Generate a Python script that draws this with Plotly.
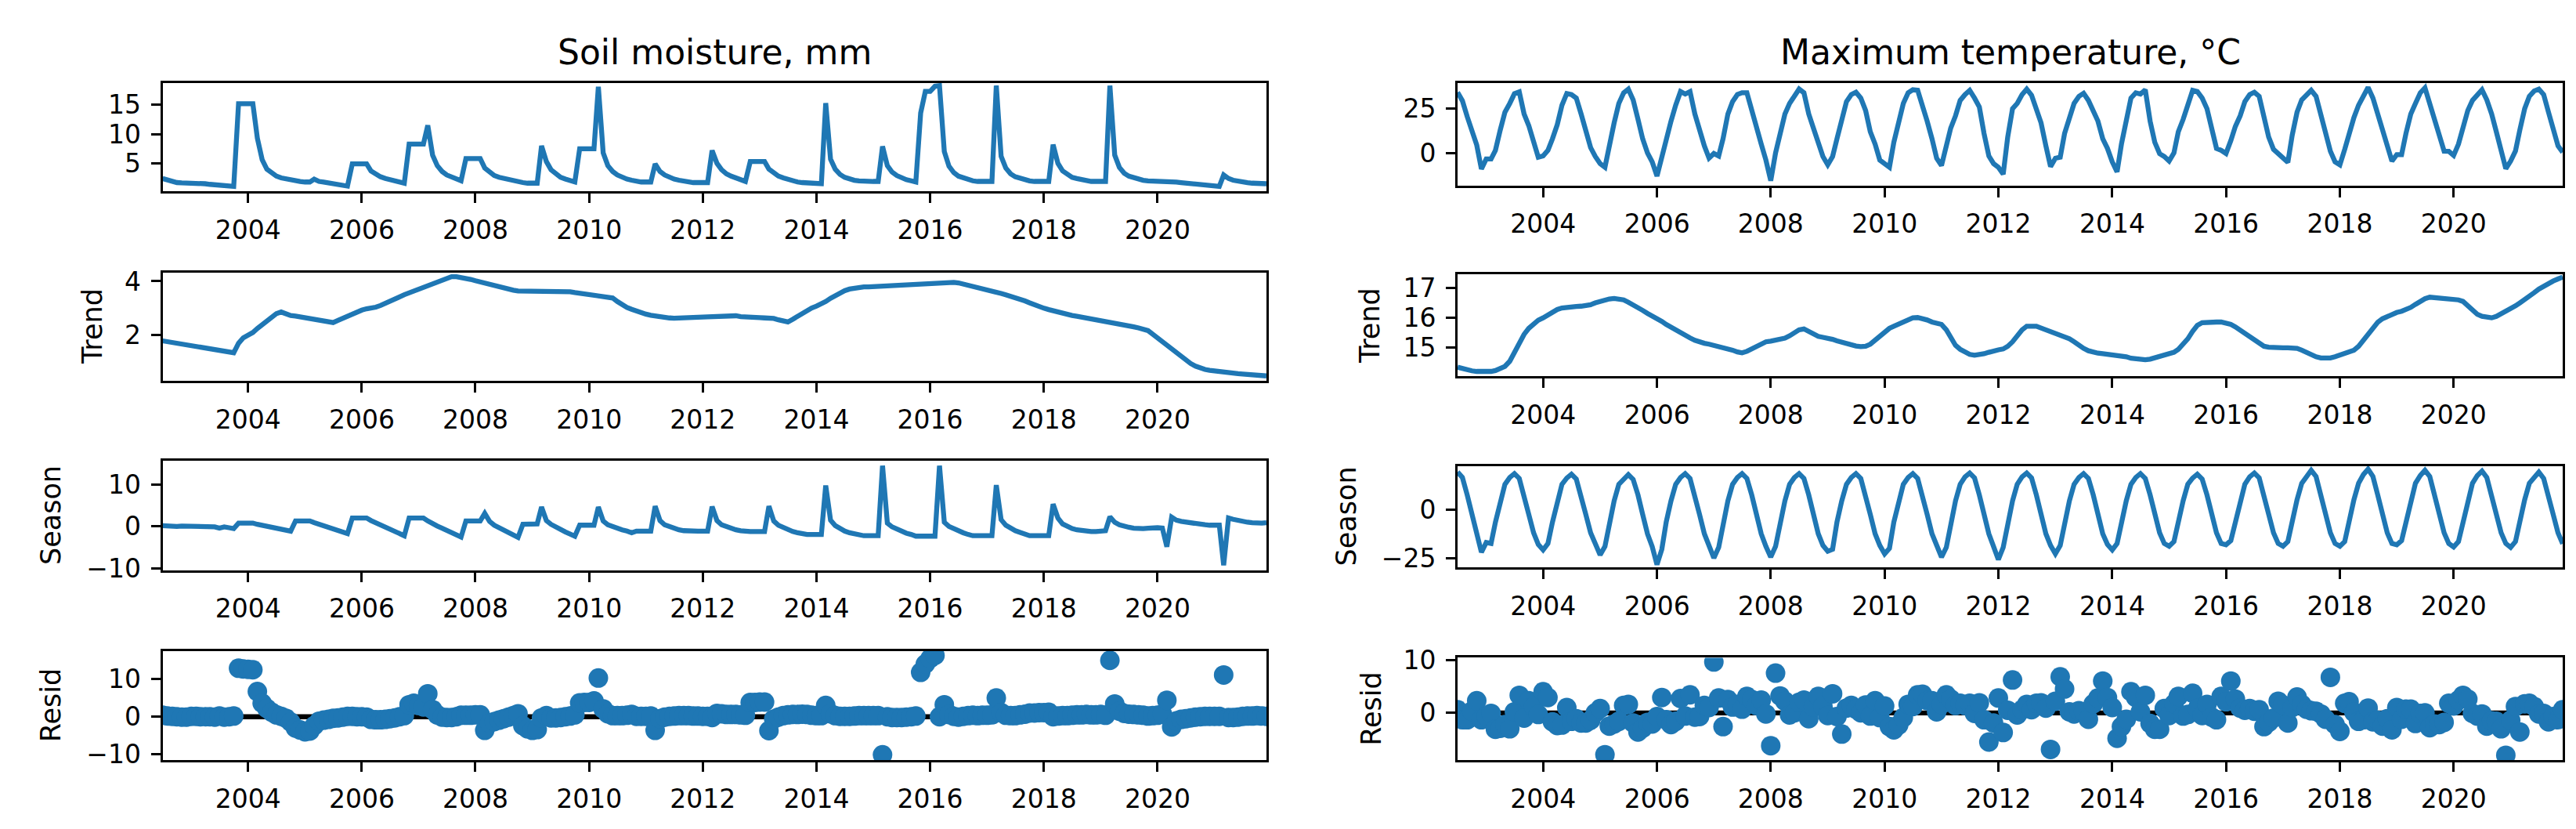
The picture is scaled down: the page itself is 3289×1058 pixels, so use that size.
import pandas as pd
import plotly.graph_objects as go

# ---------------- data (monthly, first month below) ----------------
START_MONTH = "2002-07-01"

# Soil moisture, mm
SM_OBSERVED = [
    2.4, 2.1, 1.9, 1.7, 1.65, 1.65,
    1.65, 1.65, 1.6, 1.5, 1.4, 1.3, 1.25, 1.2, 1.1, 1.05, 15.2, 15.2,
    15.2, 15.2, 9.3, 5.6, 4.0, 3.3, 2.8, 2.5, 2.3, 2.1, 2.0, 1.9,
    1.8, 1.8, 2.3, 1.9, 1.8, 1.7, 1.6, 1.5, 1.3, 1.1, 4.9, 4.9,
    4.9, 4.9, 3.7, 3.1, 2.7, 2.4, 2.2, 2.0, 1.8, 1.6, 8.3, 8.3,
    8.3, 8.3, 11.5, 6.4, 4.6, 3.6, 3.0, 2.6, 2.3, 2.0, 5.8, 5.8,
    5.8, 5.8, 4.2, 3.4, 2.9, 2.6, 2.4, 2.2, 2.0, 1.8, 1.7, 1.6,
    1.6, 1.6, 8.0, 5.3, 3.9, 3.1, 2.6, 2.3, 2.0, 1.8, 7.5, 7.5,
    7.5, 7.5, 18.1, 6.8, 4.6, 3.6, 3.0, 2.6, 2.3, 2.1, 1.9, 1.8,
    1.8, 1.8, 4.9, 3.6, 3.0, 2.6, 2.3, 2.1, 1.9, 1.8, 1.7, 1.7,
    1.7, 1.7, 7.2, 5.0, 3.9, 3.2, 2.8, 2.5, 2.2, 1.9, 5.3, 5.3,
    5.3, 5.3, 4.0, 3.3, 2.8, 2.5, 2.2, 2.0, 1.8, 1.7, 1.6, 1.5,
    1.5, 1.5, 15.3, 5.7, 4.0, 3.1, 2.6, 2.3, 2.1, 2.0, 1.9, 1.9,
    1.9, 1.9, 7.9, 4.6, 3.5, 2.9, 2.5, 2.2, 2.0, 1.8, 13.6, 17.3,
    17.3, 18.2, 18.3, 7.0, 4.5, 3.4, 2.8, 2.5, 2.2, 2.0, 1.9, 1.9,
    1.9, 1.9, 18.3, 6.2, 4.2, 3.2, 2.7, 2.4, 2.2, 2.0, 1.9, 1.9,
    1.9, 1.9, 8.2, 5.0, 3.7, 3.0, 2.6, 2.4, 2.2, 2.0, 1.9, 1.9,
    1.9, 1.9, 18.3, 6.4, 4.3, 3.3, 2.8, 2.5, 2.3, 2.1, 2.0, 2.0,
    2.0, 2.0, 2.0, 1.9, 1.8, 1.7, 1.6, 1.5, 1.4, 1.3, 1.2, 1.1,
    1.05, 1.05, 3.0, 2.4, 2.1, 1.9, 1.8, 1.7, 1.6, 1.6, 1.5, 1.5,
]
SM_TREND = [
    1.79, 1.76, 1.72, 1.68, 1.65, 1.62,
    1.59, 1.56, 1.53, 1.5, 1.47, 1.45, 1.42, 1.4, 1.37, 1.35, 1.7, 1.9,
    2.0, 2.1, 2.25, 2.4, 2.55, 2.68, 2.8, 2.86, 2.78, 2.73, 2.71, 2.68,
    2.66, 2.64, 2.61, 2.57, 2.53, 2.49, 2.47, 2.55, 2.63, 2.72, 2.8, 2.87,
    2.93, 2.98, 3.0, 3.04, 3.1, 3.17, 3.27, 3.35, 3.42, 3.5, 3.57, 3.64,
    3.7, 3.77, 3.84, 3.92, 4.0, 4.07, 4.14, 4.17, 4.17, 4.15, 4.12, 4.07,
    4.02, 3.97, 3.93, 3.89, 3.85, 3.81, 3.77, 3.72, 3.67, 3.64, 3.64, 3.65,
    3.65, 3.65, 3.65, 3.65, 3.65, 3.64, 3.64, 3.63, 3.61, 3.58, 3.55, 3.52,
    3.5, 3.48, 3.45, 3.42, 3.4, 3.38, 3.25, 3.13, 3.03, 2.96, 2.89, 2.83,
    2.78, 2.74, 2.71, 2.68, 2.66, 2.64, 2.63, 2.63, 2.63, 2.64, 2.65, 2.66,
    2.67, 2.68, 2.69, 2.7, 2.71, 2.72, 2.73, 2.72, 2.69, 2.67, 2.66, 2.65,
    2.65, 2.64, 2.64, 2.62, 2.57, 2.51, 2.49, 2.59, 2.7, 2.81, 2.92, 3.01,
    3.08, 3.15, 3.25, 3.37, 3.48, 3.57, 3.65, 3.71, 3.75, 3.78, 3.79, 3.79,
    3.8, 3.8, 3.8, 3.81, 3.81, 3.82, 3.84, 3.86, 3.88, 3.9, 3.9, 3.9,
    3.9, 3.9, 3.91, 3.93, 3.95, 3.96, 3.94, 3.9, 3.85, 3.81, 3.77, 3.73,
    3.7, 3.65, 3.6, 3.55, 3.5, 3.45, 3.39, 3.33, 3.27, 3.2, 3.12, 3.05,
    3.0, 2.95, 2.9, 2.86, 2.81, 2.77, 2.73, 2.7, 2.67, 2.64, 2.61, 2.58,
    2.55, 2.51, 2.47, 2.44, 2.4, 2.37, 2.34, 2.31, 2.27, 2.23, 2.17, 2.04,
    1.9, 1.75, 1.62, 1.48, 1.34, 1.2, 1.07, 0.95, 0.85, 0.77, 0.73, 0.7,
    0.67, 0.65, 0.63, 0.61, 0.59, 0.57, 0.56, 0.55, 0.53, 0.52, 0.5, 0.49,
]
SM_SEASON = [
    0.2, 0.1, 0.1, 0.0, 0.1, 0.1,
    0.0, 0.0, 0.1, 0.0, -0.1, -0.1, -0.4, -0.1, -0.3, -0.5, 0.8, 0.8,
    0.8, 0.8, 0.5, 0.3, 0.1, -0.1, -0.3, -0.5, -0.7, -1.1, 1.3, 1.3,
    1.3, 1.3, 0.9, 0.5, 0.2, -0.1, -0.5, -0.8, -1.2, -1.7, 2.0, 2.0,
    2.0, 2.0, 1.4, 0.9, 0.4, -0.1, -0.6, -1.1, -1.6, -2.2, 2.0, 2.0,
    2.0, 2.0, 1.3, 0.6, 0.1, -0.4, -0.9, -1.4, -1.9, -2.5, 1.3, 1.3,
    1.3, 1.3, 3.1, 1.2, 0.3, -0.3, -0.9, -1.4, -2.0, -2.6, 0.5, 0.5,
    0.5, 0.6, 4.6, 1.4, 0.5, -0.2, -0.8, -1.3, -1.8, -2.3, 0.3, 0.3,
    0.3, 0.3, 4.6, 1.3, 0.4, -0.1, -0.5, -0.8, -1.1, -1.5, -1.1, -1.1,
    -1.1, -1.1, 4.8, 1.4, 0.4, -0.1, -0.5, -0.8, -1.0, -1.1, -1.1, -1.1,
    -1.1, -1.1, 4.7, 1.4, 0.4, -0.1, -0.5, -0.8, -1.0, -1.2, -1.2, -1.2,
    -1.2, -1.2, 4.8, 1.3, 0.3, -0.3, -0.8, -1.2, -1.5, -1.8, -1.9, -1.9,
    -1.9, -1.9, 9.7, 1.5, 0.2, -0.6, -1.1, -1.5, -1.8, -2.1, -2.2, -2.2,
    -2.2, -2.2, 14.4, 0.8, -0.1, -0.7, -1.2, -1.6, -1.9, -2.3, -2.3, -2.3,
    -2.3, -2.3, 14.4, 1.0, 0.0, -0.6, -1.1, -1.5, -1.9, -2.2, -2.2, -2.2,
    -2.2, -2.2, 9.8, 1.6, 0.3, -0.5, -1.0, -1.4, -1.8, -2.2, -2.2, -2.2,
    -2.2, -2.2, 5.3, 2.0, 0.6, -0.1, -0.5, -0.8, -1.0, -1.2, -1.2, -1.2,
    -1.2, -1.0, 2.3, 1.0, 0.4, 0.0, -0.2, -0.4, -0.5, -0.5, -0.4, -0.3,
    -0.3, -0.4, -4.8, 2.2, 1.5, 1.2, 1.0, 0.8, 0.6, 0.5, 0.4, 0.3,
    0.3, 0.3, -9.2, 2.0, 1.7, 1.4, 1.2, 1.0, 0.9, 0.8, 0.8, 0.9,
]
SM_RESID = [
    0.4, 0.2, 0.1, 0.0, -0.1, -0.1,
    0.1, 0.1, 0.0, 0.0, 0.0, -0.1, 0.2, -0.1, 0.0, 0.2, 12.9, 12.7,
    12.6, 12.5, 6.7, 3.6, 2.2, 1.2, 0.5, 0.1, -0.4, -1.4, -3.0, -3.5,
    -4.0, -3.8, -2.4, -1.2, -0.9, -0.7, -0.4, -0.3, -0.1, 0.1, 0.1, 0.0,
    0.0, -0.1, -0.7, -0.8, -0.8, -0.7, -0.5, -0.3, 0.0, 0.3, 3.2, 3.6,
    3.0, 2.6, 6.1, 1.9, 0.5, -0.1, -0.2, -0.2, 0.0, 0.4, 0.4, 0.4,
    0.5, 0.5, -3.6, -1.7, -1.3, -0.9, -0.5, -0.1, 0.3, 0.8, -2.4, -3.2,
    -3.6, -3.4, -0.3, 0.3, -0.3, -0.3, -0.2, 0.0, 0.2, 0.5, 3.7, 3.8,
    3.8, 4.2, 10.3, 2.1, 0.8, 0.3, 0.3, 0.3, 0.4, 0.6, 0.1, 0.1,
    0.1, 0.2, -3.6, -0.5, -0.1, 0.1, 0.2, 0.3, 0.3, 0.3, 0.2, 0.2,
    0.1, 0.1, -0.2, 0.9, 0.8, 0.6, 0.6, 0.6, 0.5, 0.4, 3.8, 3.8,
    3.9, 3.9, -3.7, -0.6, -0.1, 0.3, 0.5, 0.6, 0.6, 0.7, 0.6, 0.4,
    0.3, 0.3, 3.0, 0.8, 0.3, 0.1, 0.1, 0.1, 0.2, 0.3, 0.3, 0.3,
    0.3, 0.3, -10.1, 0.0, -0.2, -0.2, -0.2, -0.1, 0.0, 0.2, 11.8, 14.0,
    15.5, 16.3, 0.0, 3.2, 0.6, 0.1, -0.1, 0.1, 0.3, 0.4, 0.3, 0.4,
    0.4, 0.5, 5.0, 1.1, 0.4, 0.3, 0.3, 0.5, 0.7, 1.0, 1.0, 1.1,
    1.1, 1.2, 0.0, 0.2, 0.3, 0.3, 0.4, 0.5, 0.5, 0.6, 0.5, 0.5,
    0.6, 0.4, 15.0, 3.4, 1.5, 0.9, 0.7, 0.6, 0.5, 0.4, 0.2, 0.3,
    0.4, 0.7, 4.4, -2.7, -1.1, -0.7, -0.5, -0.3, -0.1, 0.0, 0.1, 0.1,
    0.1, 0.1, 11.1, -0.2, -0.2, -0.1, 0.1, 0.2, 0.2, 0.3, 0.2, 0.1,
]

# Maximum temperature, °C
TX_OBSERVED = [
    34.3, 29.5, 20.5, 12.0, 4.5, -9.1,
    -3.4, -3.4, 1.5, 13.0, 23.0, 28.0, 33.5, 34.5, 22.0, 15.5, 5.0, -2.4,
    -1.7, 1.5, 8.0, 16.0, 27.0, 33.6, 33.0, 31.0, 22.0, 12.0, 3.0, -2.0,
    -6.0, -8.1, 5.0, 17.0, 28.0, 34.0, 36.1, 30.0, 19.0, 8.0, 0.0, -5.0,
    -13.1, -1.7, 8.0, 18.0, 27.0, 34.7, 33.3, 34.7, 22.0, 12.0, 4.0, -2.9,
    -0.3, -1.7, 8.0, 22.0, 29.0, 33.0, 34.0, 34.0, 25.0, 14.0, 5.0, -4.0,
    -15.7, 0.0, 12.0, 22.0, 28.0, 32.0, 36.1, 34.0, 22.0, 14.0, 6.0, -2.0,
    -6.7, -2.0, 8.0, 20.0, 29.0, 33.0, 34.3, 31.0, 24.0, 12.0, 5.0, -4.0,
    -6.0, -8.1, 6.0, 18.0, 28.0, 34.0, 35.7, 35.4, 27.0, 18.0, 8.0, -3.0,
    -7.1, 3.0, 14.0, 21.0, 29.7, 33.0, 35.4, 31.0, 26.0, 11.0, -1.7, -6.0,
    -8.1, -12.0, 9.0, 25.0, 28.0, 33.0, 36.1, 32.6, 25.0, 17.0, 4.0, -7.7,
    -3.0, -2.4, 11.0, 20.0, 28.0, 32.0, 33.7, 29.7, 24.0, 18.0, 8.0, 2.6,
    -5.0, -10.7, 5.0, 18.0, 31.0, 34.0, 33.3, 35.7, 18.0, 6.0, -0.4, -2.0,
    -4.6, 0.0, 12.0, 19.0, 28.0, 35.4, 34.7, 31.0, 25.0, 12.6, 2.6, 1.5,
    -0.3, 7.0, 15.0, 21.0, 29.0, 33.0, 34.3, 32.0, 20.0, 9.0, 2.0, -0.3,
    -2.4, -5.3, 10.0, 23.0, 30.0, 33.0, 35.4, 32.0, 22.0, 11.0, 1.0, -5.0,
    -6.7, 2.0, 11.0, 20.0, 27.0, 32.0, 37.1, 31.0, 22.0, 11.0, 3.0, -4.6,
    -1.0, -1.0, 11.0, 22.0, 28.0, 34.0, 36.8, 28.0, 20.0, 12.0, 1.0, 0.9,
    -1.4, 5.0, 15.0, 24.0, 29.7, 33.0, 35.7, 30.0, 22.0, 12.0, 1.1, -8.9,
    -4.6, 1.1, 13.0, 25.0, 32.0, 35.0, 36.1, 33.0, 23.0, 14.0, 4.0, 0.4,
]
TX_TREND = [
    14.35, 14.3, 14.26, 14.23, 14.21, 14.2,
    14.2, 14.21, 14.24, 14.3, 14.38, 14.55, 14.85, 15.2, 15.45, 15.65, 15.8, 15.92,
    16.0, 16.1, 16.2, 16.28, 16.33, 16.36, 16.37, 16.38, 16.39, 16.4, 16.44, 16.5,
    16.56, 16.6, 16.63, 16.65, 16.64, 16.6, 16.52, 16.44, 16.35, 16.25, 16.15, 16.07,
    15.98, 15.88, 15.78, 15.68, 15.6, 15.5, 15.42, 15.33, 15.25, 15.18, 15.15, 15.12,
    15.08, 15.05, 15.03, 14.98, 14.92, 14.86, 14.83, 14.88, 14.97, 15.07, 15.15, 15.2,
    15.22, 15.25, 15.28, 15.32, 15.4, 15.5, 15.6, 15.63, 15.55, 15.45, 15.38, 15.35,
    15.33, 15.28, 15.23, 15.18, 15.13, 15.09, 15.06, 15.04, 15.05, 15.12, 15.25, 15.4,
    15.55, 15.65, 15.72, 15.8, 15.88, 15.95, 16.0, 16.01, 15.99, 15.93, 15.86, 15.8,
    15.78, 15.6, 15.35, 15.08, 14.95, 14.85, 14.78, 14.75, 14.76, 14.8, 14.85, 14.9,
    14.93, 14.96, 15.05, 15.2, 15.4, 15.6, 15.72, 15.74, 15.72, 15.66, 15.6, 15.52,
    15.45, 15.4, 15.36, 15.3, 15.2, 15.08, 14.98, 14.9, 14.85, 14.82, 14.8, 14.78,
    14.76, 14.75, 14.74, 14.7, 14.65, 14.62, 14.6, 14.6, 14.62, 14.66, 14.7, 14.75,
    14.78, 14.85, 14.95, 15.1, 15.3, 15.55, 15.75, 15.84, 15.86, 15.86, 15.86, 15.86,
    15.84, 15.78, 15.7, 15.59, 15.48, 15.36, 15.24, 15.12, 15.05, 15.02, 15.0, 15.0,
    15.0, 15.0, 15.0, 14.98, 14.92, 14.84, 14.76, 14.7, 14.66, 14.65, 14.66, 14.7,
    14.75, 14.8, 14.87, 14.92, 15.05, 15.25, 15.45, 15.65, 15.85, 15.97, 16.05, 16.12,
    16.18, 16.22, 16.27, 16.35, 16.45, 16.55, 16.64, 16.69, 16.68, 16.66, 16.64, 16.62,
    16.61, 16.6, 16.55, 16.42, 16.26, 16.12, 16.05, 16.01, 16.0, 16.05, 16.13, 16.22,
    16.31, 16.4, 16.5, 16.6, 16.72, 16.84, 16.96, 17.06, 17.15, 17.23, 17.3, 17.36,
]
TX_SEASON = [
    19.3, 16.5, 7.5, -2.5, -12.0, -22.0,
    -17.0, -17.5, -6.5, 4.5, 13.0, 16.5, 18.5, 16.0, 7.5, -2.5, -12.0, -18.0,
    -20.8, -17.5, -6.5, 4.5, 13.0, 16.2, 18.2, 15.7, 7.5, -2.5, -12.0, -18.5,
    -23.4, -19.0, -6.5, 4.5, 13.0, 16.0, 18.0, 15.5, 7.5, -2.5, -12.5, -19.0,
    -28.4, -20.5, -6.5, 4.5, 13.0, 16.5, 18.5, 16.0, 7.5, -2.5, -12.5, -19.0,
    -25.0, -19.5, -6.5, 4.5, 13.0, 16.5, 18.5, 16.0, 7.5, -2.5, -12.5, -19.0,
    -24.5, -19.0, -6.5, 4.5, 13.0, 16.5, 18.5, 16.0, 7.5, -2.5, -12.5, -18.5,
    -21.5, -20.5, -6.5, 4.5, 13.0, 16.5, 18.5, 16.0, 7.5, -2.5, -12.5, -18.5,
    -22.8, -20.0, -6.5, 4.5, 13.0, 16.5, 18.5, 16.0, 7.5, -2.5, -12.5, -19.0,
    -24.5, -19.5, -6.5, 4.5, 13.0, 16.8, 18.8, 16.3, 7.5, -2.5, -12.5, -19.0,
    -25.8, -19.5, -6.5, 4.5, 13.0, 16.8, 18.8, 16.3, 7.5, -2.5, -12.5, -18.5,
    -22.8, -18.5, -6.5, 4.5, 13.0, 16.5, 18.5, 16.0, 7.5, -2.5, -12.5, -18.0,
    -20.8, -17.5, -6.0, 4.5, 13.0, 16.5, 18.5, 16.0, 7.5, -2.5, -12.0, -17.5,
    -18.9, -16.5, -6.0, 4.5, 13.0, 16.2, 18.2, 15.7, 7.5, -2.5, -12.0, -17.5,
    -18.2, -16.0, -6.0, 4.5, 13.0, 16.8, 18.8, 16.3, 7.5, -2.5, -12.0, -17.5,
    -18.9, -16.5, -6.0, 5.0, 13.5, 17.5, 20.2, 17.0, 7.5, -2.5, -12.0, -17.5,
    -18.9, -16.5, -6.0, 5.0, 13.5, 18.0, 20.8, 17.0, 7.5, -2.5, -12.0, -17.5,
    -18.2, -16.0, -6.0, 5.0, 13.5, 17.5, 20.2, 17.0, 7.5, -2.5, -12.0, -17.5,
    -19.3, -16.5, -6.0, 5.0, 13.5, 17.5, 19.8, 16.5, 7.5, -2.5, -12.0, -17.5,
    -19.5, -16.5, -6.0, 5.0, 13.5, 17.0, 19.3, 16.0, 7.5, -2.5, -12.0, -17.6,
]
TX_RESID = [
    0.6, -1.3, -1.3, 0.3, 2.3, -1.3,
    -0.6, -0.1, -3.1, -2.9, -2.2, -3.0, 0.2, 3.3, -1.0, 2.3, 1.2, -0.3,
    4.0, 2.9, -1.7, -2.4, -2.3, 1.0, -1.6, -1.1, -1.9, -1.9, -1.4, 0.0,
    0.8, -7.9, -2.5, -2.1, -1.6, 1.4, 1.6, -1.9, -3.6, -2.9, -1.8, -2.1,
    -0.7, 2.9, -1.3, -2.2, -1.6, 2.7, -0.6, 3.4, -0.8, -0.7, 1.4, 1.0,
    9.6, 2.8, -2.6, 2.5, 1.1, 1.6, 0.7, 3.1, 2.5, 1.4, 2.4, -0.2,
    -6.2, 7.5, 3.2, 2.2, -0.4, 0.0, 2.0, 2.4, -1.1, 1.1, 3.1, 1.2,
    -0.5, 3.6, -0.7, -4.0, 0.9, 1.4, 0.7, 0.0, 1.5, -0.6, 2.3, -0.9,
    1.3, -2.6, -3.2, -2.3, -0.9, 1.6, 1.2, 3.4, 3.5, 2.3, 2.3, 0.2,
    1.6, 3.4, 2.6, 1.4, 1.8, 1.4, 1.8, -0.1, 1.9, -1.3, -5.5, -1.9,
    2.8, -3.7, 0.5, 6.2, -0.4, 0.6, 1.6, 0.6, 1.8, 1.9, 0.9, -6.9,
    2.2, 6.8, 4.5, 0.2, -0.2, 0.4, 0.2, -1.2, 1.7, 2.8, 6.0, 2.9,
    1.0, -4.8, -2.6, -1.2, 4.0, 2.9, 0.2, 3.3, -2.0, -3.1, -3.1, 0.8,
    -0.5, 1.7, 3.1, -0.6, -0.3, 3.7, 0.8, -0.5, 1.6, -0.8, -1.3, 3.1,
    2.1, 6.0, 2.6, 0.9, 0.5, 0.8, 0.3, 0.6, -2.6, -1.8, -1.0, 2.2,
    1.5, -1.9, 1.0, 3.0, 1.6, 0.7, 0.4, 0.3, -0.2, -1.2, 6.7, -2.2,
    -3.5, 1.8, 2.1, 0.1, -1.6, -1.3, 0.9, -1.7, -1.4, -2.5, -1.1, -3.2,
    1.0, -1.2, 0.7, 0.7, -2.0, -0.1, 0.0, -2.8, -2.1, -2.2, -1.8, 1.8,
    1.3, 2.4, 3.3, 2.6, -0.1, -0.6, -0.2, -2.5, -1.5, -1.6, -3.0, -8.0,
    -1.4, 1.2, -3.6, 1.7, 1.8, 1.2, -0.2, -0.1, -1.7, -0.7, -1.3, 0.6,
]

COLUMN_TITLES = ["Soil moisture, mm", "Maximum temperature, °C"]
ROW_LABELS = [None, "Trend", "Season", "Resid"]
X_TICK_YEARS = ["2004", "2006", "2008", "2010", "2012", "2014", "2016", "2018", "2020"]

# y ticks per panel (value, label)
LEFT_YTICKS = [
    ([5, 10, 15], ["5", "10", "15"]),
    ([2, 4], ["2", "4"]),
    ([-10, 0, 10], ["\u221210", "0", "10"]),
    ([-10, 0, 10], ["\u221210", "0", "10"]),
]
RIGHT_YTICKS = [
    ([0, 25], ["0", "25"]),
    ([15, 16, 17], ["15", "16", "17"]),
    ([-25, 0], ["\u221225", "0"]),
    ([0, 10], ["0", "10"]),
]
LEFT_YRANGES = [[0.2, 18.8], [0.31, 4.32], [-10.36, 15.5], [-11.5, 17.5]]
RIGHT_YRANGES = [[-18.4, 39.7], [14.05, 17.46], [-29.9, 22.5], [-8.9, 10.4]]

# ---------------- layout geometry (pixels) ----------------
W, H = 3289, 1058
LEFT_X = (199.6, 1609.0)
RIGHT_X = (1853.0, 3264.0)
LEFT_ROWS = [(83.3, 226.7), (334.0, 476.7), (582.7, 726.7), (833.3, 977.3)]
RIGHT_ROWS = [(83.3, 219.0), (336.0, 470.7), (589.0, 723.3), (842.3, 977.3)]
LEFT_LABEL_X = [None, 110, 57, 57]
RIGHT_LABEL_X = [None, 1741, 1711, 1743]

BLUE = "#1f77b4"
FONT = "DejaVu Sans"
TICK_SIZE = 33
LABEL_SIZE = 35
TITLE_SIZE = 44
LINE_W = 6.3
MARKER_D = 25

dates = pd.date_range(START_MONTH, periods=len(SM_OBSERVED), freq="MS")
xr = [dates[0], dates[-1]]
xtickvals = [pd.Timestamp(f"{y}-01-01") for y in X_TICK_YEARS]


def fx(px):
    return px / W


def fy(px):
    return 1 - px / H


fig = go.Figure()
layout = dict(
    width=W, height=H, margin=dict(l=0, r=0, t=0, b=0),
    paper_bgcolor="white", plot_bgcolor="white", showlegend=False,
    font=dict(family=FONT, color="black"),
)
annotations = []
shapes = []

columns = [
    (LEFT_X, LEFT_ROWS, LEFT_YTICKS, LEFT_YRANGES, LEFT_LABEL_X,
     [SM_OBSERVED, SM_TREND, SM_SEASON, SM_RESID]),
    (RIGHT_X, RIGHT_ROWS, RIGHT_YTICKS, RIGHT_YRANGES, RIGHT_LABEL_X,
     [TX_OBSERVED, TX_TREND, TX_SEASON, TX_RESID]),
]

n = 0
for ci, (cx, rows, yticks, yranges, labx, series) in enumerate(columns):
    for ri in range(4):
        n += 1
        xa = "x" if n == 1 else f"x{n}"
        ya = "y" if n == 1 else f"y{n}"
        top, bot = rows[ri]
        common = dict(
            showline=True, mirror=True, linecolor="black", linewidth=3,
            ticks="outside", ticklen=12, tickwidth=3, tickcolor="black",
            showgrid=False, zeroline=False,
            tickfont=dict(family=FONT, size=TICK_SIZE, color="black"),
        )
        layout["xaxis" if n == 1 else f"xaxis{n}"] = dict(
            common, domain=[fx(cx[0]), fx(cx[1])], anchor=ya, type="date",
            range=xr, tickmode="array", tickvals=xtickvals, ticktext=X_TICK_YEARS,
            ticklabelstandoff=6,
        )
        layout["yaxis" if n == 1 else f"yaxis{n}"] = dict(
            common, domain=[fy(bot), fy(top)], anchor=xa,
            range=yranges[ri], tickmode="array",
            tickvals=yticks[ri][0], ticktext=yticks[ri][1],
            ticklabelstandoff=6,
        )
        vals = series[ri]
        if ri == 3:
            shapes.append(dict(
                type="line", xref=f"{xa} domain", x0=0, x1=1, yref=ya, y0=0, y1=0,
                line=dict(color="black", width=LINE_W), layer="below",
            ))
            fig.add_trace(go.Scatter(
                x=dates, y=vals, mode="markers", xaxis=xa, yaxis=ya,
                marker=dict(color=BLUE, size=MARKER_D, line=dict(width=0)),
            ))
        else:
            fig.add_trace(go.Scatter(
                x=dates, y=vals, mode="lines", xaxis=xa, yaxis=ya,
                line=dict(color=BLUE, width=LINE_W),
            ))
        if ROW_LABELS[ri]:
            annotations.append(dict(
                text=ROW_LABELS[ri], xref="paper", yref="paper",
                x=fx(labx[ri]), y=fy((top + bot) / 2), xanchor="center",
                yanchor="middle", textangle=-90, showarrow=False,
                font=dict(family=FONT, size=LABEL_SIZE, color="black"),
            ))
    annotations.append(dict(
        text=COLUMN_TITLES[ci], xref="paper", yref="paper",
        x=fx((cx[0] + cx[1]) / 2), y=fy(42.5), xanchor="center", yanchor="middle",
        showarrow=False, font=dict(family=FONT, size=TITLE_SIZE, color="black"),
    ))

layout["annotations"] = annotations
layout["shapes"] = shapes
fig.update_layout(**layout)
fig.write_html("out.html")
